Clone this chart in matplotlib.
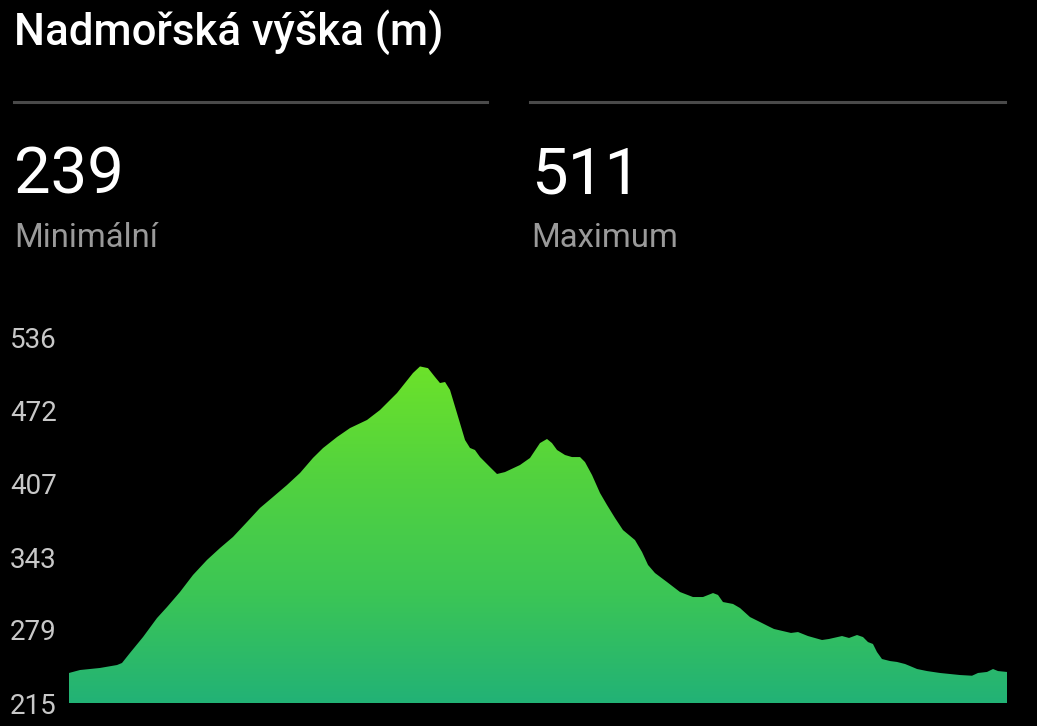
import matplotlib
matplotlib.use("Agg")
import matplotlib.pyplot as plt
import numpy as np
from matplotlib.colors import LinearSegmentedColormap

plt.rcParams['font.family'] = ['Roboto', 'DejaVu Sans']

# ---- data ----
title = "Nadmořská výška (m)"
stat_values = ["239", "511"]
stat_labels = ["Minimální", "Maximum"]
y_ticks = [215, 279.2, 343.4, 407.6, 471.8, 536]
y_tick_labels = ["215", "279", "343", "407", "472", "536"]

distance = [0, 1.17, 3.30, 5.12, 5.65, 6.50, 7.89, 9.38, 10.45, 11.83, 13.22, 14.71,
            16.10, 17.48, 18.98, 20.36, 21.75, 23.24, 24.63, 26.01, 27.08, 28.57,
            29.96, 31.77, 33.16, 34.97, 36.67, 37.42, 38.27, 39.02, 39.55, 40.09,
            40.62, 41.36, 42.22, 42.75, 43.28, 43.82, 44.88, 45.63, 46.48, 48.08,
            49.15, 50.21, 50.96, 51.49, 52.03, 52.88, 53.62, 54.48, 55.01, 55.76,
            56.61, 57.36, 58.21, 59.06, 60.34, 61.09, 61.73, 62.47, 63.75, 65.14,
            66.52, 67.59, 68.66, 69.19, 69.72, 70.79, 71.54, 72.60, 73.67, 74.73,
            75.16, 76.97, 77.72, 78.78, 80.28, 81.02, 82.41, 83.16, 84.01, 84.65,
            85.18, 85.71, 86.14, 86.67, 87.53, 88.27, 89.13, 89.66, 90.41, 91.47,
            92.86, 93.92, 94.99, 96.27, 96.91, 97.87, 98.51, 99.04, 100]
elevation = [241.4, 244.0, 245.8, 248.4, 250.2, 259.0, 273.0, 289.7, 299.4, 312.6, 327.6, 340.8,
             351.3, 361.0, 374.2, 386.5, 396.2, 406.7, 417.3, 430.5, 439.2, 448.9,
             456.8, 463.9, 472.7, 487.6, 505.2, 511.0, 509.5, 501.7, 496.4, 497.3,
             490.3, 470.0, 446.3, 439.3, 437.5, 431.3, 422.5, 416.4, 418.1, 424.3,
             430.5, 443.6, 447.2, 443.6, 437.5, 433.1, 431.3, 431.3, 426.9, 415.5,
             399.7, 389.1, 377.7, 367.1, 358.3, 347.8, 336.4, 329.3, 321.4, 312.6,
             308.2, 308.2, 311.7, 310.0, 303.8, 302.1, 298.5, 290.6, 286.2, 281.8,
             280.1, 276.6, 277.4, 273.9, 270.4, 271.3, 273.9, 272.2, 274.8, 273.0,
             268.6, 266.9, 259.8, 253.7, 251.9, 251.1, 249.3, 247.5, 244.9, 243.1,
             241.4, 240.5, 239.6, 239.0, 241.4, 242.3, 244.9, 243.1, 242.3]

W, H = 1037, 726
fig = plt.figure(figsize=(W / 100, H / 100), dpi=100, facecolor='black')

def fy(py):
    return 1 - py / H

def fx(px):
    return px / W

# header
fig.text(fx(14), fy(45), title, color='white', fontsize=31.5, fontweight='medium',
         va='baseline', ha='left')
fig.add_artist(plt.Line2D([fx(14), fx(487)], [fy(102), fy(102)], color='#4a4a4a', lw=2.2))
fig.add_artist(plt.Line2D([fx(530), fx(1005)], [fy(102), fy(102)], color='#4a4a4a', lw=2.2))
for xpx, val, lab in zip([14, 531], stat_values, stat_labels):
    fig.text(fx(xpx), fy(193), val, color='white', fontsize=47, va='baseline', ha='left')
    fig.text(fx(xpx), fy(247), lab, color='#9a9a9a', fontsize=23.7, va='baseline', ha='left')

# chart
ax = fig.add_axes([fx(69), fy(703), (1007 - 69) / W, (703 - 338) / H])
ax.set_facecolor('black')
ax.set_xlim(min(distance), max(distance))
ax.set_ylim(215, 536)

poly = ax.fill_between(distance, elevation, 215, color='none', lw=0)
cmap = LinearSegmentedColormap.from_list('g', ['#22b276', '#3cc655', '#52d23f', '#6ce22a'])
grad = np.linspace(0, 1, 256).reshape(-1, 1)
im = ax.imshow(grad, extent=[0, 100, 215, 511], origin='lower', aspect='auto', cmap=cmap,
               interpolation='bicubic')
im.set_clip_path(poly.get_paths()[0], transform=ax.transData)

ax.set_yticks(y_ticks)
ax.set_yticklabels(y_tick_labels)
ax.tick_params(axis='y', length=0, pad=42.5, labelsize=20, labelcolor='#c8c8c8')
for t in ax.get_yticklabels():
    t.set_horizontalalignment('left')
ax.set_xticks([])
for s in ax.spines.values():
    s.set_visible(False)

fig.savefig('out.png', dpi=100, facecolor='black')
